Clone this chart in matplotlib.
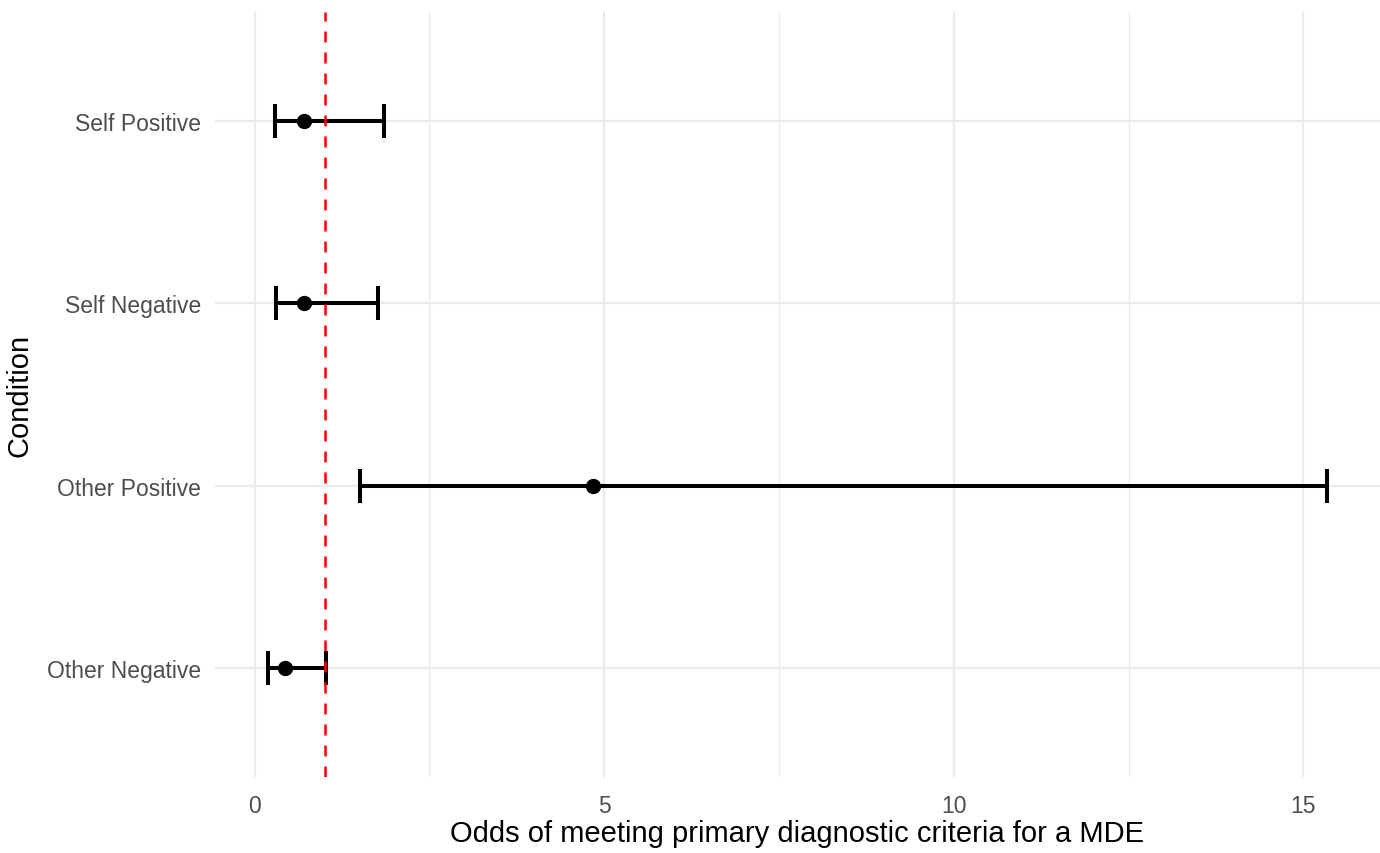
import numpy as np
import matplotlib
matplotlib.use("Agg")
from matplotlib import pyplot as plt
from matplotlib.ticker import MultipleLocator

# odds ratios with confidence intervals, bottom to top
conditions = ["Other Negative", "Other Positive", "Self Negative", "Self Positive"]
odds = [0.43, 4.84, 0.71, 0.70]
lower = [0.19, 1.50, 0.30, 0.29]
upper = [1.02, 15.34, 1.77, 1.85]
reference = 1.0

plt.rcParams['font.family'] = ['Liberation Sans', 'DejaVu Sans']

fig = plt.figure(figsize=(13.8, 8.54), dpi=100)
ax = fig.add_axes([215 / 1380, 1 - 778 / 854, 1 - 215 / 1380, (778 - 13) / 854])

y = np.arange(1, len(conditions) + 1)
odds = np.array(odds)
err = np.array([odds - np.array(lower), np.array(upper) - odds])

ax.errorbar(odds, y, xerr=err, fmt='o', color='black', ecolor='black',
            elinewidth=2.9, capsize=12.5, capthick=2.9, markersize=10, zorder=3)
ax.axvline(reference, color='red', linestyle=(0, (4.4, 4.0)), linewidth=1.8, zorder=4)

lo, hi = min(lower), max(upper)
pad = (hi - lo) * 0.05
ax.set_xlim(lo - pad, hi + pad)
ax.set_ylim(0.4, len(conditions) + 0.6)

ax.set_yticks(y)
ax.set_yticklabels(conditions)
ax.xaxis.set_major_locator(MultipleLocator(5))
ax.xaxis.set_minor_locator(MultipleLocator(2.5))

ax.grid(True, which='major', color='#EBEBEB', linewidth=1.6)
ax.grid(True, which='minor', axis='x', color='#EBEBEB', linewidth=1.0)
ax.set_axisbelow(True)
for s in ax.spines.values():
    s.set_visible(False)
ax.tick_params(which='both', length=0, labelsize=16.5, labelcolor='#4D4D4D')
ax.tick_params(axis='x', pad=12)
ax.tick_params(axis='y', pad=10)

ax.set_xlabel("Odds of meeting primary diagnostic criteria for a MDE", fontsize=21, labelpad=2)
ax.set_ylabel("Condition", fontsize=21, labelpad=10)

fig.savefig("out.png", dpi=100)
